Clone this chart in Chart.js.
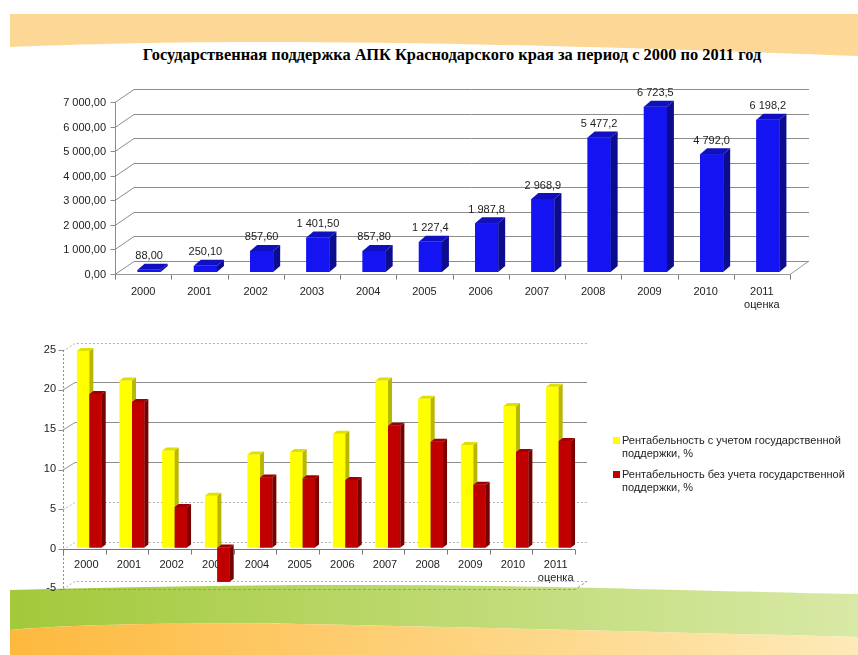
<!DOCTYPE html>
<html lang="ru">
<head>
<meta charset="UTF-8">
<title>Государственная поддержка АПК</title>
<script src="https://cdn.jsdelivr.net/npm/chart.js"></script>
<style>
    body { margin: 0; background: #fff; }
    .page { position: relative; width: 858px; height: 655px; overflow: hidden; font-family: "Liberation Sans", Arial, sans-serif; }
    .decor { position: absolute; left: 0; top: 0; }
    h1 {
        position: absolute; left: 0; top: 45px; width: 904px; margin: 0;
        text-align: center; font-family: "Liberation Serif", "Times New Roman", serif;
        font-size: 16.4px; font-weight: bold; color: #000;
    }
    #topBox { position: absolute; left: 0; top: 70px; }
    #botBox { position: absolute; left: 0; top: 330px; }
    .legend { position: absolute; left: 613px; top: 434px; font-size: 11px; line-height: 13px; color: #222; }
    .legend div { position: relative; padding-left: 9px; margin-bottom: 8px; }
    .legend span { position: absolute; left: 0; top: 3px; width: 7px; height: 7px; }
</style>
</head>
<body>
<div class="page">
    <svg class="decor" width="858" height="655">
        <defs>
            <linearGradient id="gr" x1="0" x2="1" y1="0" y2="0">
                <stop offset="0" stop-color="#A2C93A"/>
                <stop offset="1" stop-color="#D8E9A6"/>
            </linearGradient>
            <linearGradient id="og" x1="0" x2="1" y1="0" y2="0">
                <stop offset="0" stop-color="#FDB93E"/>
                <stop offset="1" stop-color="#FDEAB8"/>
            </linearGradient>
        </defs>
        <path d="M10,14 L858,14 L858,56 C700,50 460,42 260,42 C150,42 60,45 10,47 Z" fill="#FDD796"/>
        <path d="M10,590 C200,585 400,583 600,588 C720,591 800,593 858,594 L858,637 C700,633 500,628 300,624 C150,622 50,626 10,630 Z" fill="url(#gr)"/>
        <path d="M10,630 C50,626 150,622 300,624 C500,628 700,633 858,637 L858,655 L10,655 Z" fill="url(#og)"/>
    </svg>

    <h1>Государственная поддержка АПК Краснодарского края за период с 2000 по 2011 год</h1>

    <div id="topBox"><canvas id="topChart" width="858" height="250"></canvas></div>
    <div id="botBox"><canvas id="botChart" width="858" height="276"></canvas></div>
    <div class="legend" id="legend"></div>
</div>
<script>
    // data
    const years = ['2000', '2001', '2002', '2003', '2004', '2005', '2006', '2007', '2008', '2009', '2010', ['2011', 'оценка']];
    const support = [88.0, 250.1, 857.6, 1401.5, 857.8, 1227.4, 1987.8, 2968.9, 5477.2, 6723.5, 4792.0, 6198.2];
    const supportLabels = ['88,00', '250,10', '857,60', '1 401,50', '857,80', '1 227,4', '1 987,8', '2 968,9', '5 477,2', '6 723,5', '4 792,0', '6 198,2'];

    const seriesNames = ['Рентабельность  с учетом государственной поддержки, %', 'Рентабельность  без учета государственной поддержки, %'];
    const profitWith = [24.7, 21.0, 12.2, 6.5, 11.7, 12.0, 14.3, 21.0, 18.7, 12.9, 17.8, 20.2];
    const profitWithout = [19.3, 18.3, 5.1, -4.3, 8.8, 8.7, 8.5, 15.3, 13.3, 7.9, 12.0, 13.4];

    const fontFam = '"Liberation Sans", Arial, sans-serif';

    function fmt(v) {
        const parts = v.toFixed(2).split('.');
        return parts[0].replace(/\B(?=(\d{3})+(?!\d))/g, ' ') + ',' + parts[1];
    }

    // back wall + front axes, drawn from the chart's own scales
    const frame3d = {
        id: 'frame3d',
        beforeDatasetsDraw(chart, args, o) {
            const ctx = chart.ctx, a = chart.chartArea, y = chart.scales.y, x = chart.scales.x;
            const f = o.front, b = o.back;
            ctx.save();
            ctx.lineWidth = 1;
            y.ticks.forEach(t => {
                const py = Math.round(y.getPixelForValue(t.value)) + 0.5;
                ctx.strokeStyle = o.dotted(t.value) ? '#b0b0b0' : '#8c8c8c';
                ctx.setLineDash(o.dotted(t.value) ? [2, 2] : []);
                ctx.beginPath();
                ctx.moveTo(a.left + f[0], py + f[1]);
                ctx.lineTo(a.left + b[0], py + b[1]);
                ctx.lineTo(a.right + b[0], py + b[1]);
                ctx.stroke();
            });
            // front vertical axis with ticks
            ctx.setLineDash(o.axisDash);
            ctx.strokeStyle = '#8c8c8c';
            const lx = Math.round(a.left + f[0]) + 0.5;
            ctx.beginPath();
            ctx.moveTo(lx, y.getPixelForValue(y.max) + f[1]);
            ctx.lineTo(lx, y.getPixelForValue(y.min) + f[1]);
            ctx.stroke();
            ctx.setLineDash([]);
            y.ticks.forEach(t => {
                const py = Math.round(y.getPixelForValue(t.value) + f[1]) + 0.5;
                ctx.beginPath();
                ctx.moveTo(lx - 5, py);
                ctx.lineTo(lx, py);
                ctx.stroke();
            });
            // front x axis at zero with ticks at category boundaries
            const y0 = Math.round(y.getPixelForValue(0) + f[1]) + 0.5;
            ctx.strokeStyle = '#777';
            ctx.beginPath();
            ctx.moveTo(a.left + f[0], y0);
            ctx.lineTo(a.right + f[0], y0);
            ctx.stroke();
            const n = x.ticks.length;
            for (let i = 0; i <= n; i++) {
                const bx = Math.round(a.left + f[0] + i * (a.right - a.left) / n) + 0.5;
                ctx.beginPath();
                ctx.moveTo(bx, y0);
                ctx.lineTo(bx, y0 + 5);
                ctx.stroke();
            }
            // floor edge
            const yf = Math.round(y.getPixelForValue(y.min) + f[1]) + 0.5;
            ctx.strokeStyle = '#999';
            ctx.setLineDash(o.floorDash);
            ctx.beginPath();
            ctx.moveTo(a.left + f[0], yf);
            ctx.lineTo(a.right + f[0], yf);
            ctx.lineTo(a.right + b[0], y.getPixelForValue(y.min) + b[1]);
            ctx.stroke();
            ctx.restore();
        }
    };

    // redraw bars dataset by dataset with their side and top faces,
    // so the later series covers the side of the earlier one
    const bars3d = {
        id: 'bars3d',
        afterDatasetsDraw(chart, args, o) {
            const ctx = chart.ctx;
            const dx = o.depth[0], dy = o.depth[1];
            ctx.save();
            chart.data.datasets.forEach((ds, di) => {
                chart.getDatasetMeta(di).data.forEach(bar => {
                    bar.draw(ctx);
                    const p = bar.getProps(['x', 'y', 'base', 'width'], true);
                    const l = p.x - p.width / 2, r = p.x + p.width / 2;
                    const top = Math.min(p.y, p.base), bot = Math.max(p.y, p.base);
                    ctx.fillStyle = ds.sideColor;
                    ctx.beginPath();
                    ctx.moveTo(r, top); ctx.lineTo(r + dx, top + dy);
                    ctx.lineTo(r + dx, bot + dy); ctx.lineTo(r, bot);
                    ctx.closePath(); ctx.fill();
                    ctx.fillStyle = ds.topColor;
                    ctx.beginPath();
                    ctx.moveTo(l, top); ctx.lineTo(l + dx, top + dy);
                    ctx.lineTo(r + dx, top + dy); ctx.lineTo(r, top);
                    ctx.closePath(); ctx.fill();
                });
            });
            ctx.restore();
        }
    };

    const valueLabels = {
        id: 'valueLabels',
        afterDatasetsDraw(chart) {
            const ctx = chart.ctx;
            ctx.save();
            ctx.font = '11px ' + fontFam;
            ctx.fillStyle = '#222';
            ctx.textAlign = 'center';
            ctx.textBaseline = 'bottom';
            chart.getDatasetMeta(0).data.forEach((bar, i) => {
                ctx.fillText(supportLabels[i], bar.x, bar.y - 8);
            });
            ctx.restore();
        }
    };

    new Chart(document.getElementById('topChart'), {
        type: 'bar',
        data: {
            labels: years,
            datasets: [{
                data: support,
                backgroundColor: '#1414F2',
                sideColor: '#0C0C8E',
                topColor: '#1010BE',
                categoryPercentage: 0.41,
                barPercentage: 1
            }]
        },
        options: {
            responsive: false,
            animation: false,
            layout: { padding: { left: 41, right: 62, top: 30, bottom: 0 } },
            plugins: {
                legend: { display: false },
                tooltip: { enabled: false },
                frame3d: { front: [-6, 2], back: [13, -11], dotted: () => false, axisDash: [], floorDash: [] },
                bars3d: { depth: [7, -6] }
            },
            scales: {
                x: {
                    grid: { display: false, drawTicks: false },
                    border: { display: false },
                    afterFit: s => { s.height = 48; },
                    ticks: { padding: 13, labelOffset: -6, color: '#222', font: { size: 11, family: fontFam }, maxRotation: 0, autoSkip: false }
                },
                y: {
                    min: 0, max: 7000,
                    grid: { display: false, drawTicks: false },
                    border: { display: false },
                    afterFit: s => { s.width = 80; },
                    ticks: { stepSize: 1000, padding: 15, labelOffset: 3, color: '#222', font: { size: 11, family: fontFam }, callback: v => fmt(v) }
                }
            }
        },
        plugins: [frame3d, bars3d, valueLabels]
    });

    const botColors = [
        { front: '#FFFF00', side: '#B8B800', top: '#E0E000' },
        { front: '#C00000', side: '#780000', top: '#A00000' }
    ];

    new Chart(document.getElementById('botChart'), {
        type: 'bar',
        data: {
            labels: years,
            datasets: [profitWith, profitWithout].map((vals, i) => ({
                label: seriesNames[i],
                data: vals,
                backgroundColor: botColors[i].front,
                sideColor: botColors[i].side,
                topColor: botColors[i].top,
                categoryPercentage: 0.58,
                barPercentage: 1
            }))
        },
        options: {
            responsive: false,
            animation: false,
            layout: { padding: { left: 32, right: 278, top: 18, bottom: 6 } },
            plugins: {
                legend: { display: false },
                tooltip: { enabled: false },
                frame3d: { front: [-5, 1.5], back: [7, -6], dotted: v => !(v === 10 || v === 15 || v === 20), axisDash: [2, 2], floorDash: [3, 2] },
                bars3d: { depth: [4, -3] }
            },
            scales: {
                x: {
                    position: { y: 0 },
                    grid: { display: false, drawTicks: false },
                    border: { display: false },
                    ticks: { padding: 11, labelOffset: -3, color: '#222', font: { size: 11, family: fontFam }, maxRotation: 0, autoSkip: false }
                },
                y: {
                    min: -5, max: 25,
                    grid: { display: false, drawTicks: false },
                    border: { display: false },
                    afterFit: s => { s.width = 36; },
                    ticks: { stepSize: 5, padding: 12, labelOffset: 1, color: '#222', font: { size: 11, family: fontFam } }
                }
            }
        },
        plugins: [frame3d, bars3d]
    });

    // html legend with wrapped text
    const legend = document.getElementById('legend');
    seriesNames.forEach((name, i) => {
        const row = document.createElement('div');
        const sw = document.createElement('span');
        sw.style.background = botColors[i].front;
        row.appendChild(sw);
        const words = name.split(' поддержки');
        row.appendChild(document.createTextNode(words[0]));
        row.appendChild(document.createElement('br'));
        row.appendChild(document.createTextNode('поддержки' + words[1]));
        legend.appendChild(row);
    });
</script>
</body>
</html>
